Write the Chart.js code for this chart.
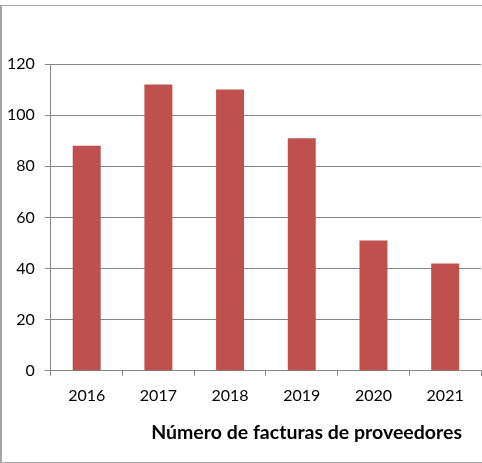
<!DOCTYPE html>
<html>
<head>
<meta charset="utf-8">
<script src="https://cdn.jsdelivr.net/npm/chart.js@4"></script>
<style>
  html, body { margin: 0; padding: 0; background: #fff; overflow: hidden; }
  #frame { position: absolute; left: 0; top: 5px; width: 482px; height: 456px;
    border-top: 1px solid #a6a6a6; border-left: 2px solid #a6a6a6; border-bottom: 1px solid #a6a6a6; }
  #wrap { position: absolute; left: -6px; top: 0; width: 488px; height: 463px; }
</style>
</head>
<body>
<div id="frame"></div>
<div id="wrap"><canvas id="myChart"></canvas></div>
<script>
'use strict';

// data
let years = ['2016', '2017', '2018', '2019', '2020', '2021'];
let facturas = [88, 112, 110, 91, 51, 42];
let yTicks = [0, 20, 40, 60, 80, 100, 120];
let caption = 'Número de facturas de proveedores';

const ctx = document.getElementById('myChart');

// caption under the axis, right-ish like the original
let captionPlugin = {
  id: 'caption',
  afterDraw(chart){
    let c = chart.ctx;
    c.save();
    c.font = 'bold 19.5px Lato';
    c.fillStyle = '#000';
    c.textAlign = 'right';
    c.textBaseline = 'middle';
    c.fillText(caption, chart.chartArea.right - 19, 433);
    c.restore();
  }
};

let chartObj = {
  type: 'bar',
  data: {
    labels: years,
    datasets: [{
      label: caption,
      data: facturas,
      backgroundColor: '#c0504d',
      borderWidth: 0,
      categoryPercentage: 1,
      barPercentage: 0.39
    }]
  },
  options: {
    responsive: true,
    maintainAspectRatio: false,
    animation: false,
    layout: { padding: { left: 3, right: 1, top: 64, bottom: 48 } },
    plugins: {
      legend: { display: false },
      tooltip: { enabled: false }
    },
    scales: {
      x: {
        grid: { display: true, drawOnChartArea: false, drawTicks: true, tickLength: 5, color: '#868686', offset: true },
        border: { display: true, color: '#868686', width: 1 },
        ticks: { color: '#000', font: { family: 'Lato', size: 16 }, padding: 10, maxRotation: 0 }
      },
      y: {
        min: 0,
        max: 120,
        afterBuildTicks(axis){
          axis.ticks = yTicks.map(v => ({ value: v }));
        },
        grid: { color: '#868686', tickLength: 6, drawTicks: true },
        border: { display: true, color: '#868686', width: 1 },
        ticks: { color: '#000', font: { family: 'Lato', size: 16 }, padding: 10 }
      }
    }
  },
  plugins: [captionPlugin]
};

new Chart(ctx, chartObj);
</script>
</body>
</html>
